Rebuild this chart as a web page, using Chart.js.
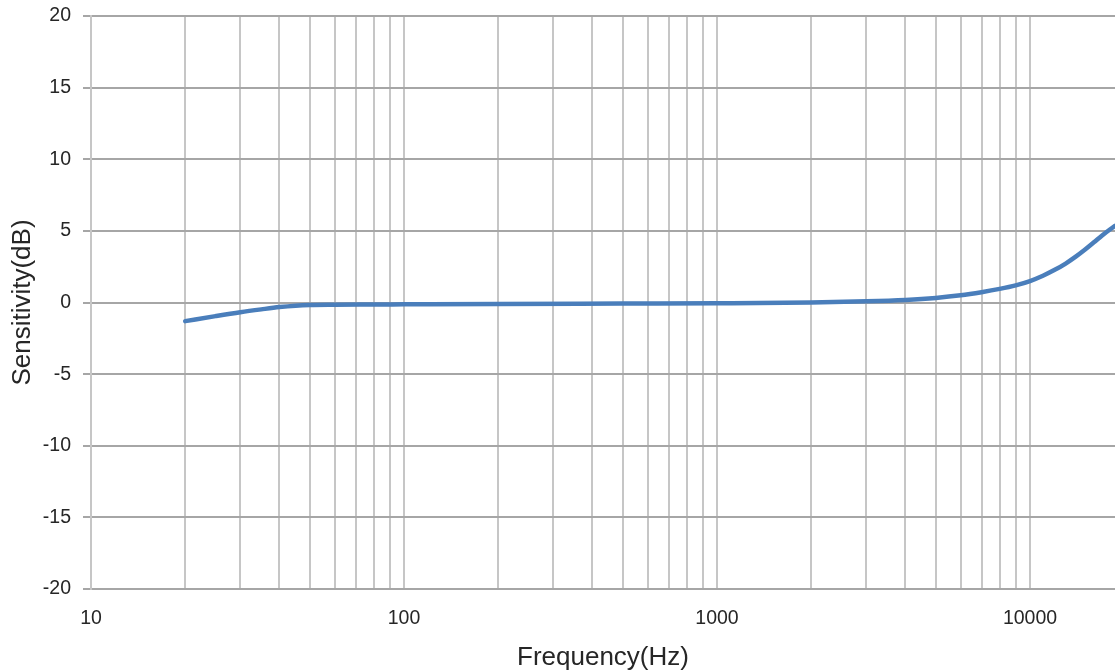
<!DOCTYPE html>
<html>
<head>
<meta charset="utf-8">
<script src="https://cdn.jsdelivr.net/npm/chart.js@4"></script>
<style>
  html, body { margin: 0; padding: 0; background: #ffffff; }
  #wrap { width: 1115px; height: 670px; }
</style>
</head>
<body>
<div id="wrap"><canvas id="c" width="1115" height="670"></canvas></div>
<script>
// Frequency (Hz) samples
const frequencies = [20, 25, 30, 35, 40, 45, 50, 60, 80, 100, 200, 500, 1000, 2000, 3000, 4000, 5000, 6000, 7000, 8000, 9000, 10000, 11000, 12000, 13000, 14000, 15000, 16000, 17000, 18000, 18690];
// Sensitivity (dB)
const sensitivity = [-1.3, -0.95, -0.68, -0.48, -0.32, -0.22, -0.17, -0.15, -0.14, -0.13, -0.1, -0.07, -0.05, 0.0, 0.08, 0.18, 0.32, 0.5, 0.72, 0.95, 1.2, 1.5, 1.87, 2.28, 2.72, 3.2, 3.7, 4.2, 4.68, 5.1, 5.35];
// Axis ticks
const xGridTicks = [10,20,30,40,50,60,70,80,90,100,200,300,400,500,600,700,800,900,1000,2000,3000,4000,5000,6000,7000,8000,9000,10000];
const xLabelTicks = [10, 100, 1000, 10000];
const yMin = -20, yMax = 20, yStep = 5;
const xMin = 10, xMax = 18690;
const xTitle = 'Frequency(Hz)';
const yTitle = 'Sensitivity(dB)';

const points = frequencies.map((f, i) => ({ x: f, y: sensitivity[i] }));

new Chart(document.getElementById('c'), {
  type: 'line',
  data: {
    datasets: [{
      data: points,
      borderColor: '#4a7ebb',
      borderWidth: 4.5,
      pointRadius: 0,
      fill: false,
      cubicInterpolationMode: 'monotone',
      borderCapStyle: 'round'
    }]
  },
  options: {
    responsive: false,
    animation: false,
    devicePixelRatio: 1,
    layout: { padding: { top: 16, right: 0, bottom: 0, left: 0 } },
    plugins: { legend: { display: false }, tooltip: { enabled: false } },
    scales: {
      x: {
        type: 'logarithmic',
        min: xMin,
        max: xMax,
        afterBuildTicks: (scale) => { scale.ticks = xGridTicks.map(v => ({ value: v })); },
        afterFit: (scale) => { scale.height = 81; scale.paddingLeft = 0; scale.paddingRight = 0; },
        ticks: {
          autoSkip: false,
          maxRotation: 0,
          minRotation: 0,
          padding: 18,
          color: '#262626',
          font: { family: 'Liberation Sans, Arial, sans-serif', size: 19.5 },
          callback: (v) => xLabelTicks.includes(v) ? String(v) : ''
        },
        grid: { color: '#c6c6c6', lineWidth: 2, drawTicks: false },
        border: { color: '#a6a6a6', width: 2 },
        title: {
          display: true,
          text: xTitle,
          color: '#262626',
          font: { family: 'Liberation Sans, Arial, sans-serif', size: 26 },
          padding: { top: 0, bottom: -3 }
        }
      },
      y: {
        min: yMin,
        max: yMax,
        afterFit: (scale) => { scale.width = 91; scale.paddingTop = 0; scale.paddingBottom = 0; },
        ticks: {
          stepSize: yStep,
          padding: 12,
          color: '#262626',
          font: { family: 'Liberation Sans, Arial, sans-serif', size: 19.5 }
        },
        grid: { color: '#a6a6a6', lineWidth: 2, tickLength: 8 },
        border: { color: '#c6c6c6', width: 2 },
        title: {
          display: true,
          text: yTitle,
          color: '#262626',
          font: { family: 'Liberation Sans, Arial, sans-serif', size: 26 },
          padding: { top: 7, bottom: 0 }
        }
      }
    }
  }
});
</script>
</body>
</html>
